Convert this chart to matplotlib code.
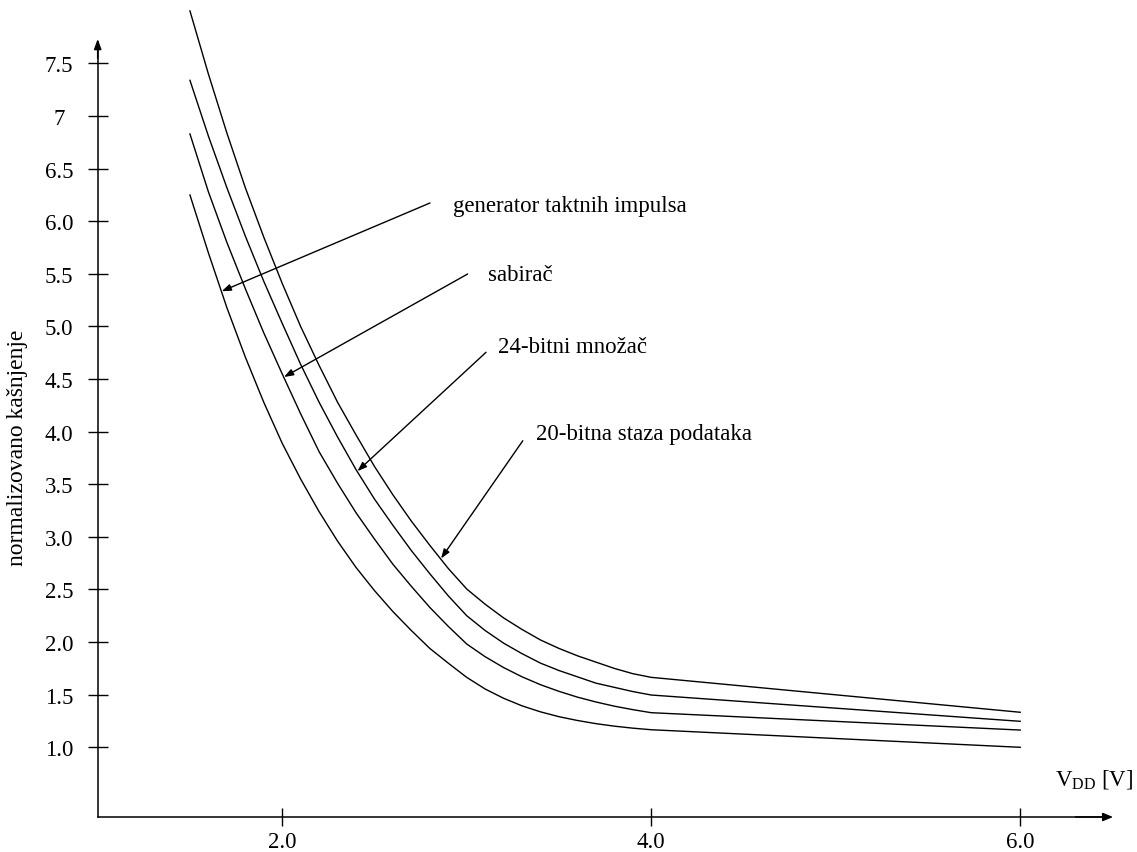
import matplotlib
matplotlib.use("Agg")
import matplotlib.pyplot as plt

plt.rcParams['font.family'] = ['Liberation Serif', 'DejaVu Serif']
plt.rcParams['mathtext.fontset'] = 'custom'
plt.rcParams['mathtext.rm'] = 'Liberation Serif'

# supply voltage [V]
vdd = [1.5, 1.6, 1.7, 1.8, 1.9, 2.0, 2.1, 2.2, 2.3, 2.4, 2.5, 2.6, 2.7, 2.8, 2.9,
       3.0, 3.1, 3.2, 3.3, 3.4, 3.5, 3.6, 3.7, 3.8, 3.9, 4.0, 6.0]

# normalized delay
staza_20 = [8.00, 7.40, 6.84, 6.32, 5.85, 5.41, 5.00, 4.63, 4.28, 3.97, 3.67, 3.40, 3.15, 2.92, 2.70,
            2.505, 2.36, 2.23, 2.12, 2.02, 1.94, 1.87, 1.81, 1.75, 1.70, 1.665, 1.333]
mnozac_24 = [7.34, 6.81, 6.32, 5.86, 5.43, 5.03, 4.64, 4.28, 3.95, 3.64, 3.36, 3.11, 2.87, 2.65, 2.44,
             2.251, 2.11, 1.99, 1.89, 1.80, 1.73, 1.67, 1.61, 1.57, 1.53, 1.497, 1.247]
sabirac = [6.83, 6.28, 5.80, 5.36, 4.94, 4.55, 4.17, 3.81, 3.51, 3.23, 2.98, 2.74, 2.53, 2.33, 2.15,
           1.982, 1.861, 1.758, 1.670, 1.595, 1.532, 1.477, 1.431, 1.391, 1.358, 1.329, 1.164]
generator = [6.25, 5.70, 5.18, 4.71, 4.28, 3.89, 3.55, 3.24, 2.96, 2.71, 2.49, 2.29, 2.11, 1.94, 1.80,
             1.665, 1.554, 1.466, 1.394, 1.337, 1.291, 1.255, 1.225, 1.201, 1.182, 1.167, 1.0]

yticks = [1.0, 1.5, 2.0, 2.5, 3.0, 3.5, 4.0, 4.5, 5.0, 5.5, 6.0, 6.5, 7.0, 7.5]
ytick_labels = ['1.0', '1.5', '2.0', '2.5', '3.0', '3.5', '4.0', '4.5', '5.0',
                '5.5', '6.0', '6.5', '7', '7.5']
xticks = [2.0, 4.0, 6.0]
xtick_labels = ['2.0', '4.0', '6.0']

# label text, text position, arrow start, arrow tip
labels = ['generator taktnih impulsa', 'sabirač', '24-bitni množač', '20-bitna staza podataka']
label_pos = [(2.924, 6.101), (3.114, 5.445), (3.168, 4.755), (3.376, 3.931)]
arrow_from = [(2.801, 6.174), (3.005, 5.499), (3.105, 4.755), (3.304, 3.914)]
arrow_to = [(1.672, 5.335), (2.010, 4.52), (2.408, 3.625), (2.861, 2.795)]

fig = plt.figure(figsize=(11.37, 8.53), dpi=100)
ax = fig.add_axes([0, 0, 1, 1])
ax.set_xlim(0.4705, 6.633)
ax.set_ylim(0.0048, 8.113)

for curve in [staza_20, mnozac_24, sabirac, generator]:
    ax.plot(vdd, curve, color='black', lw=1.0)

# axes drawn as arrows through the origin corner
x0, y0 = 1.0, 0.3375
for side in ['top', 'right']:
    ax.spines[side].set_visible(False)
ax.spines['left'].set_position(('data', x0))
ax.spines['bottom'].set_position(('data', y0))
ax.spines['left'].set_bounds(y0, 7.70)
ax.spines['bottom'].set_bounds(x0, 6.47)
ax.spines['left'].set_linewidth(1.1)
ax.spines['bottom'].set_linewidth(1.1)
ax.annotate('', xy=(x0, 7.733), xytext=(x0, 7.55),
            arrowprops=dict(arrowstyle='-|>,head_length=0.6,head_width=0.22',
                            color='black', lw=1.1, shrinkA=0, shrinkB=0))
ax.annotate('', xy=(6.503, y0), xytext=(6.3, y0),
            arrowprops=dict(arrowstyle='-|>,head_length=0.6,head_width=0.25',
                            color='black', lw=1.1, shrinkA=0, shrinkB=0))

ax.set_yticks(yticks)
ax.set_yticklabels(ytick_labels)
ax.set_xticks(xticks)
ax.set_xticklabels(xtick_labels)
ax.tick_params(axis='y', direction='inout', length=13.7, width=1.0, labelsize=16.5, pad=21)
ax.tick_params(axis='x', direction='inout', length=13.5, width=1.0, labelsize=16.5, pad=3)
for lbl in ax.get_yticklabels():
    lbl.set_horizontalalignment('center')

for txt, pos, a, b in zip(labels, label_pos, arrow_from, arrow_to):
    ax.text(pos[0], pos[1], txt, fontsize=16.5, ha='left', va='baseline')
    ax.annotate('', xy=b, xytext=a,
                arrowprops=dict(arrowstyle='-|>,head_length=0.55,head_width=0.2',
                                color='black', lw=1.0, shrinkA=0, shrinkB=0))

ax.text(0.568, 3.859, 'normalizovano kašnjenje', fontsize=17, rotation=90,
        ha='center', va='center')
ax.text(6.189, 0.651, r'$\mathregular{V_{DD}}$ [V]', fontsize=16.5, ha='left', va='baseline')

fig.savefig('out.png', dpi=100)
